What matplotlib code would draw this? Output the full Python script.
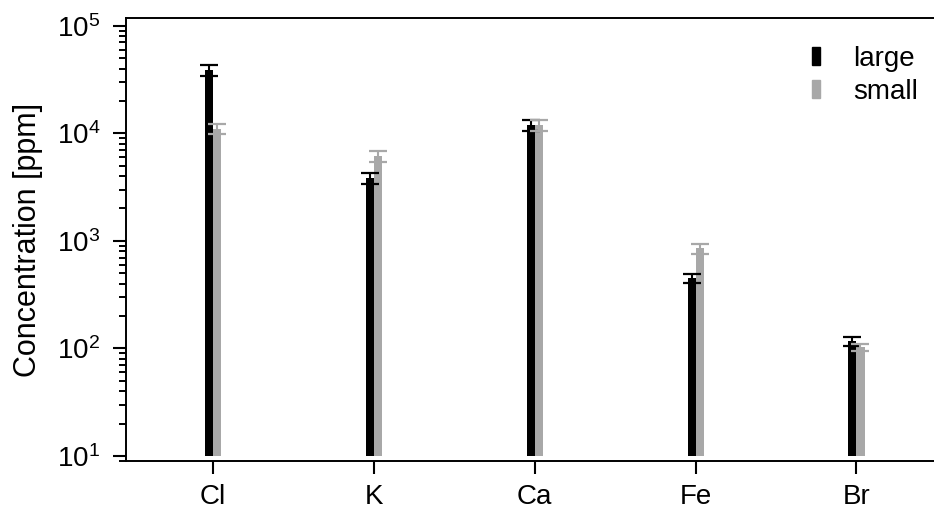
import numpy as np
import matplotlib
matplotlib.use("Agg")
import matplotlib.pyplot as plt
from matplotlib.patches import Rectangle

plt.rcParams['font.family'] = ['Liberation Sans', 'DejaVu Sans']
plt.rcParams['mathtext.fontset'] = 'custom'
plt.rcParams['mathtext.rm'] = 'Liberation Sans'
plt.rcParams['mathtext.default'] = 'regular'

# data
elements = ['Cl', 'K', 'Ca', 'Fe', 'Br']
large = [3.85e4, 3.85e3, 1.19e4, 450, 117]
large_err = [4.3e3, 450, 1.3e3, 45, 11]
small = [1.1e4, 6.15e3, 1.19e4, 850, 102]
small_err = [1.2e3, 700, 1.3e3, 90, 8]

BLACK = '#000000'
GREY = '#a8a8a8'
base = 10

fig = plt.figure(figsize=(9.34, 5.09), dpi=100)
ax = fig.add_axes([126/934, 1 - 461/509, 1 - 126/934 + 0.01, (461 - 18)/509])

x = np.arange(len(elements))
w = 0.05
ax.bar(x - w/2, np.array(large) - base, bottom=base, width=w, color=BLACK, label='large')
ax.bar(x + w/2, np.array(small) - base, bottom=base, width=w, color=GREY, label='small')
ax.errorbar(x - w/2, large, yerr=large_err, fmt='none', ecolor=BLACK,
            elinewidth=1.5, capsize=6.5, capthick=1.6)
ax.errorbar(x + w/2, small, yerr=small_err, fmt='none', ecolor=GREY,
            elinewidth=1.5, capsize=6.5, capthick=1.6)

ax.set_yscale('log')
ax.set_ylim(8.98, 1.18e5)
ax.set_xlim(-0.54, 4.54)
ax.set_xticks(x)
ax.set_xticklabels(elements)
ax.set_ylabel('Concentration [ppm]', fontsize=22, labelpad=10)

ax.tick_params(axis='both', which='major', labelsize=20, length=9.5, width=1.5, pad=7)
ax.tick_params(axis='y', which='minor', length=5, width=1.4)
ax.tick_params(axis='y', which='major', pad=9)
for s in ['left', 'bottom', 'top']:
    ax.spines[s].set_linewidth(1.4)
ax.spines['right'].set_visible(False)

handles = [Rectangle((0, 0), 1, 1, color=BLACK), Rectangle((0, 0), 1, 1, color=GREY)]
ax.legend(handles, ['large', 'small'], loc='upper right', bbox_to_anchor=(1.0 - 0.01, 0.975),
          frameon=False, fontsize=20, handlelength=0.3, handleheight=0.65,
          handletextpad=1.2, labelspacing=0.25, borderaxespad=0.2)

fig.savefig('out.png', dpi=100)
